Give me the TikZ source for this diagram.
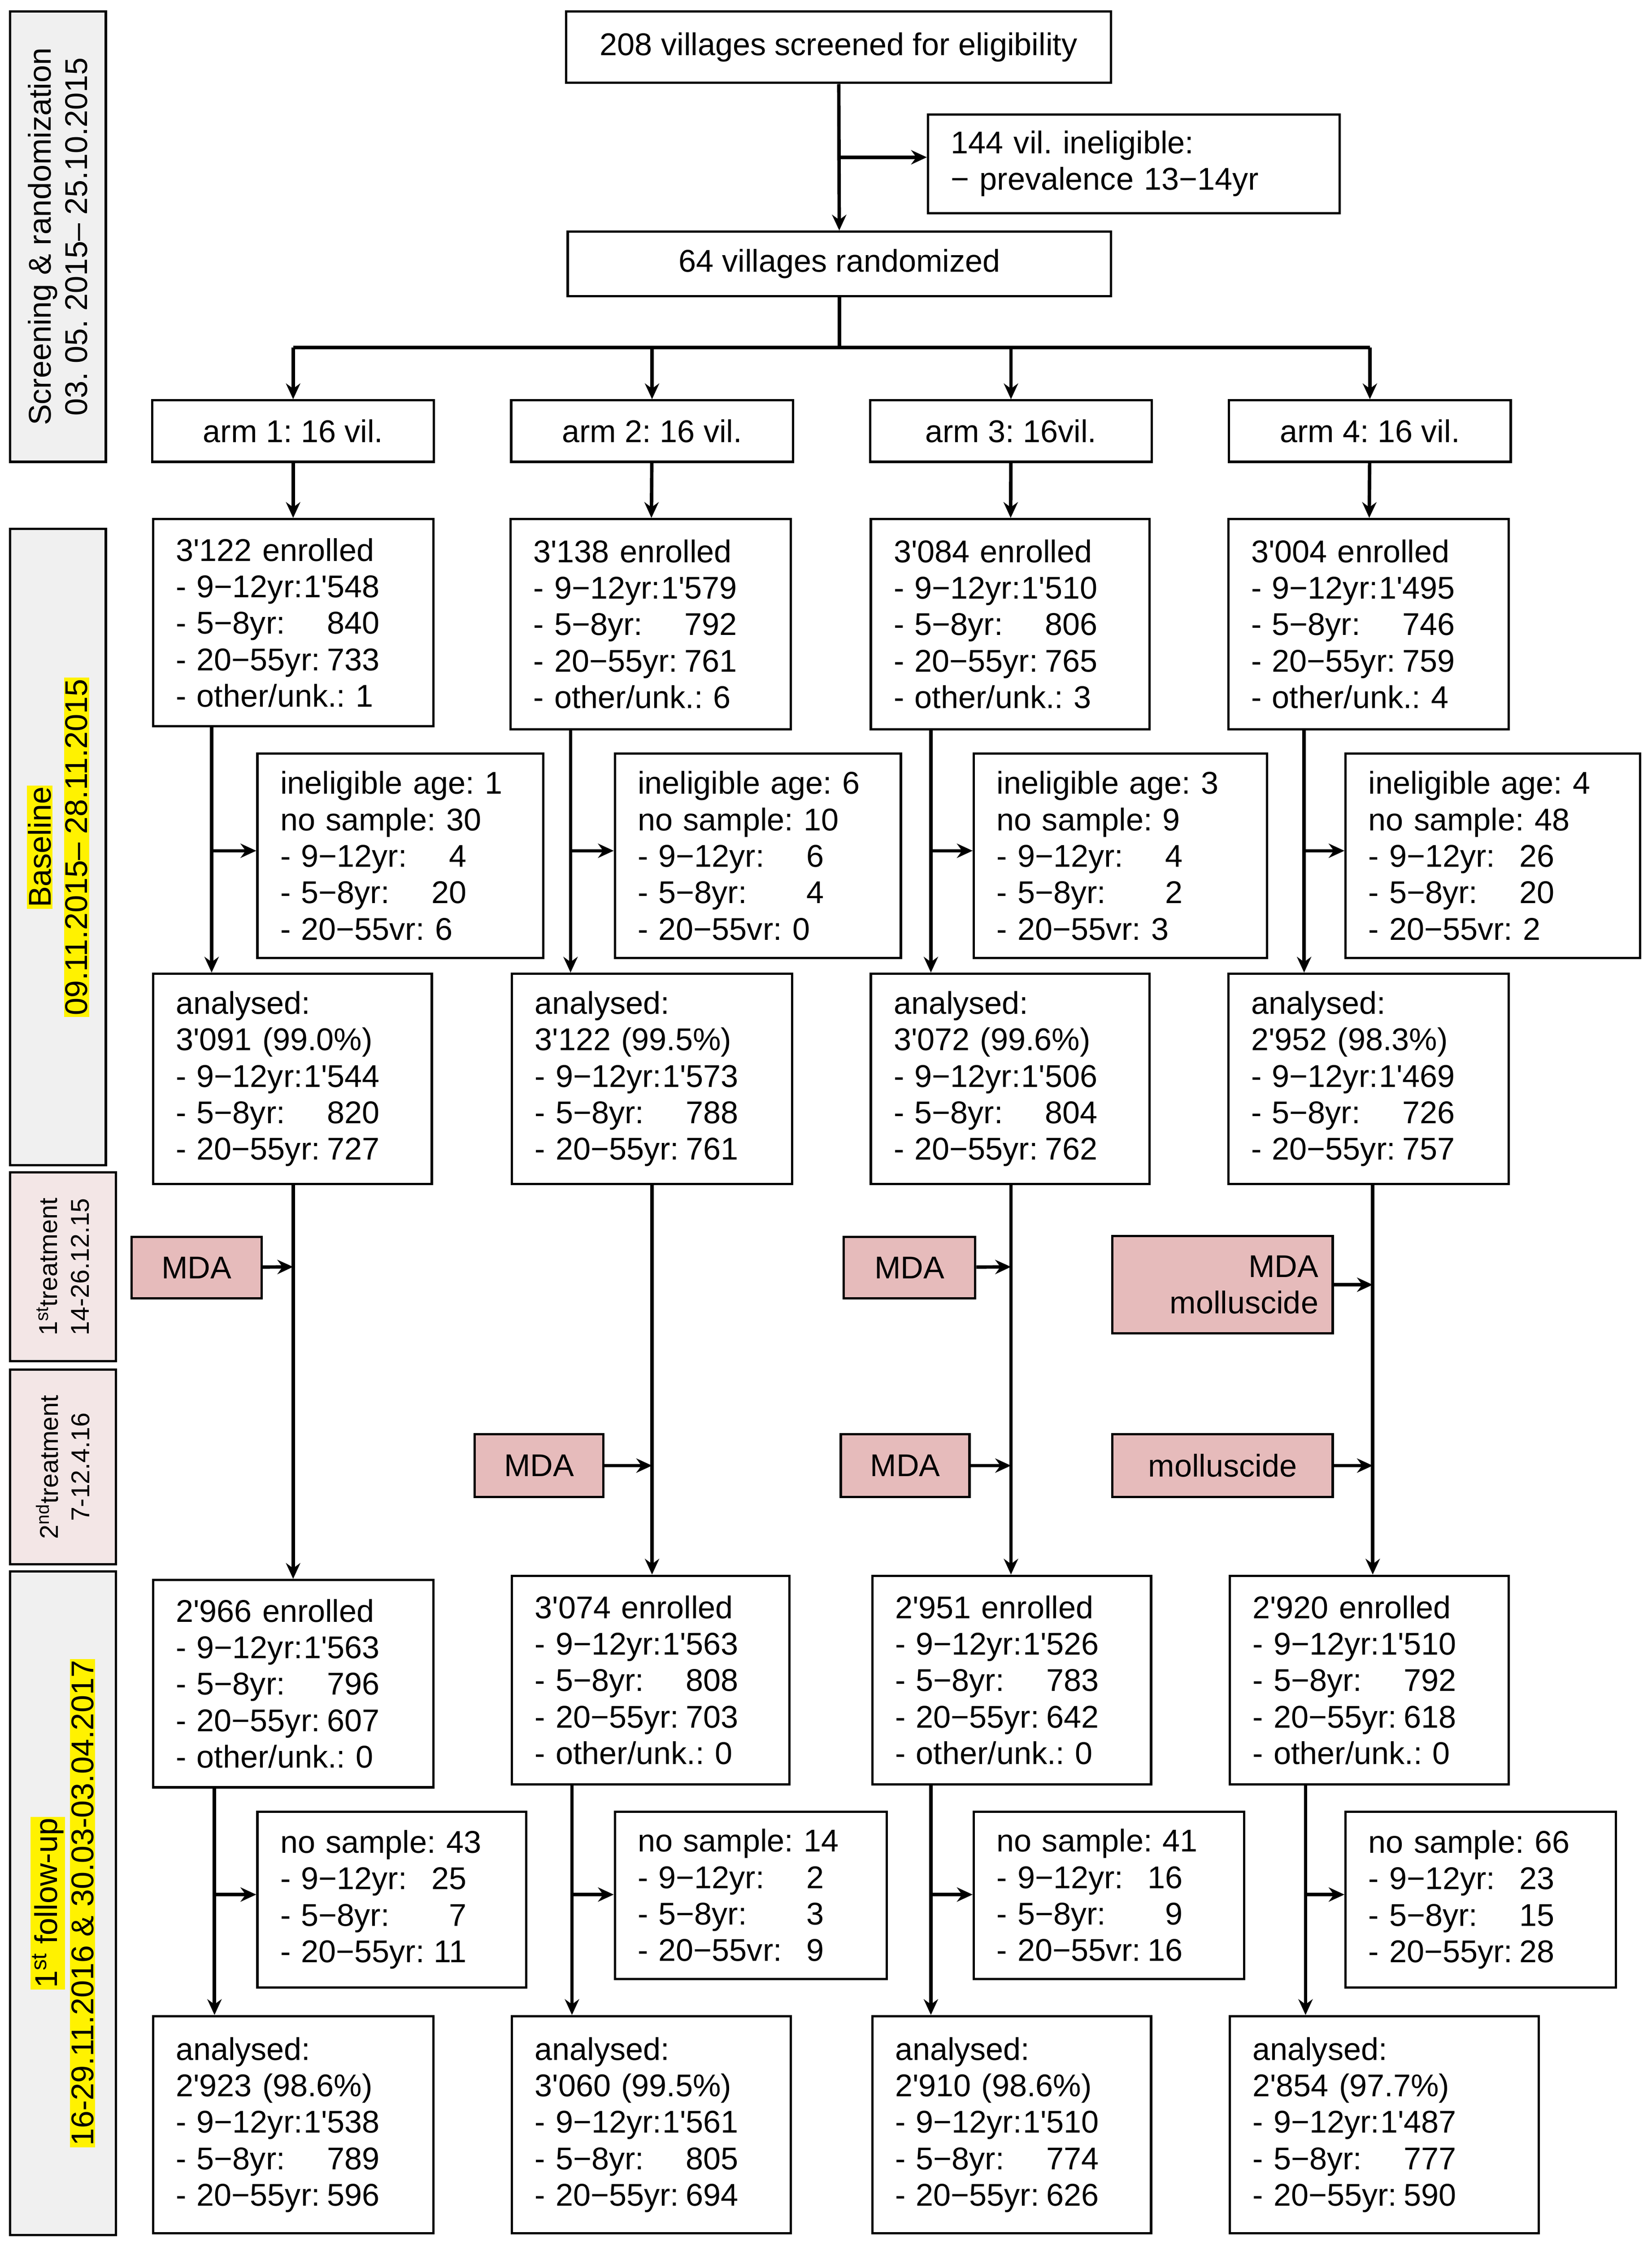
\documentclass[tikz,border=0pt]{standalone}
\usepackage{fontspec}
\setmainfont{Liberation Sans}[Ligatures=TeXOff]
\usetikzlibrary{arrows.meta}
\frenchspacing
\definecolor{pk}{HTML}{E6BBBB}
\definecolor{pl}{HTML}{F3E6E6}
\newlength\rw \newlength\rv
\newcommand\R[2]{\makebox[\rw][s]{#1\hfill#2}}
\newcommand\V[2]{\makebox[\rv][s]{#1\hfill#2}}
\newcommand\hl[1]{{\setlength\fboxsep{1pt}\colorbox{yellow}{#1}}}
\newcommand\bx[6]{\node[box,minimum width={#4-#2},minimum height={#5-#3},text width={#4-#2-32}] (#1) at ({(#2+#4)/2},{(#3+#5)/2}) {#6};}
\newcommand\pk[6]{\node[pbox,minimum width={#4-#2},minimum height={#5-#3},text width={#4-#2-20}] (#1) at ({(#2+#4)/2},{(#3+#5)/2}) {#6};}
\newcommand\sd[6]{\node[side,fill=#6,minimum width={#4-#2},minimum height={#5-#3}] (#1) at ({(#2+#4)/2},{(#3+#5)/2}) {};}
\newcommand\E[5]{#1 enrolled\\\R{- 9−12yr:}{#2}\\\R{- 5−8yr:}{#3}\\\R{- 20−55yr:}{#4}\\- other/unk.: #5}
\newcommand\A[4]{analysed:\\#1\\\R{- 9−12yr:}{#2}\\\R{- 5−8yr:}{#3}\\\R{- 20−55yr:}{#4}}
\newcommand\I[4]{ineligible age: #1\\no sample: #2\\\V{- 9−12yr:}{#3}\\\V{- 5−8yr:}{#4}}
\newcommand\N[5]{no sample: #1\\\V{- 9−12yr:}{#2}\\\V{- 5−8yr:}{#3}\\\V{- 20−55#5:}{#4}}
\begin{document}
\settowidth\rw{\fontsize{22}{25.5}\selectfont - 20−55yr: 000}
\settowidth\rv{\fontsize{22}{25.5}\selectfont - 20−55yr: 00}
\begin{tikzpicture}[x=1pt,y=-1pt,
 every node/.style={font=\fontsize{22}{25.5}\selectfont},
 box/.style={draw,line width=1.6pt,inner sep=0pt,align=left},
 pbox/.style={draw,line width=1.6pt,inner sep=0pt,fill=pk,align=center},
 side/.style={draw,line width=1.6pt,inner sep=0pt},
 ln/.style={line width=2.4pt},
 arr/.style={line width=2.4pt,-{Stealth[length=11pt,width=10pt]}}]
\useasboundingbox (0,0) rectangle (1155,1568);
% side bars
\sd{s1}{7}{8}{74}{323}{gray!12}
\node[rotate=90,align=center] at (s1) {Screening \& randomization\\03. 05. 2015– 25.10.2015};
\sd{s2}{7}{370}{74}{815}{gray!12}
\node[rotate=90,align=center] at (s2) {\hl{Baseline}\\\hl{09.11.2015– 28.11.2015}};
\sd{s3}{7}{820}{81}{952}{pl}
\node[rotate=90,align=center,font=\fontsize{18}{22}\selectfont] at (s3) {1\textsuperscript{st}treatment\\14-26.12.15};
\sd{s4}{7}{958}{81}{1094}{pl}
\node[rotate=90,align=center,font=\fontsize{18}{22}\selectfont] at (s4) {2\textsuperscript{nd}treatment\\7-12.4.16};
\sd{s5}{7}{1099}{81}{1563}{gray!12}
\node[rotate=90,align=center] at (s5) {\hl{1\textsuperscript{st} follow-up}\\\hl{16-29.11.2016 \& 30.03-03.04.2017}};
% top
\node[box,minimum width=381,minimum height=50,align=center] (scr) at (586.5,33) {208 villages screened for eligibility};
\bx{inel}{649}{80}{937}{149}{144 vil. ineligible:\\ − prevalence 13−14yr}
\node[box,minimum width=380,minimum height=45,align=center] (rnd) at (587,184.5) {64 villages randomized};
\draw[arr] (scr) -- (rnd);
\draw[arr] (587,110) -- (inel.west|-587,110);
\draw[ln] (rnd.south) -- (587,243);
\draw[ln] (205,243) -- (958,243);
\foreach \c/\t [count=\i] in {205/arm 1: 16 vil.,456/arm 2: 16 vil.,707/arm 3: 16vil.,958/arm 4: 16 vil.}{
 \node[box,minimum width=197,minimum height=43,align=center] (arm\i) at (\c,301.5) {\t};
 \draw[arr] (\c,243) -- (arm\i.north);
}
% enrolled
\bx{e1}{107}{363}{303}{508}{\E{3'122}{1'548}{840}{733}{1}}
\bx{e2}{357}{363}{553}{510}{\E{3'138}{1'579}{792}{761}{6}}
\bx{e3}{609}{363}{804}{510}{\E{3'084}{1'510}{806}{765}{3}}
\bx{e4}{859}{363}{1055}{510}{\E{3'004}{1'495}{746}{759}{4}}
\foreach \i in {1,...,4} \draw[arr] (arm\i) -- (e\i);
% ineligible
\bx{i1}{180}{527}{380}{670}{\I{1}{30}{4}{20}\\- 20−55vr: 6}
\bx{i2}{430}{527}{630}{670}{\I{6}{10}{6}{4}\\- 20−55vr: 0}
\bx{i3}{681}{527}{886}{670}{\I{3}{9}{4}{2}\\- 20−55vr: 3}
\bx{i4}{941}{527}{1147}{670}{\I{4}{48}{26}{20}\\- 20−55vr: 2}
% analysed
\bx{a1}{107}{681}{302}{828}{\A{3'091 (99.0\%)}{1'544}{820}{727}}
\bx{a2}{358}{681}{554}{828}{\A{3'122 (99.5\%)}{1'573}{788}{761}}
\bx{a3}{609}{681}{804}{828}{\A{3'072 (99.6\%)}{1'506}{804}{762}}
\bx{a4}{859}{681}{1055}{828}{\A{2'952 (98.3\%)}{1'469}{726}{757}}
\foreach \i/\x/\n in {1/148/i1,2/399/i2,3/651/i3,4/912/i4}{
 \draw[arr] (e\i.south-|\x,0) -- (a\i.north-|\x,0);
 \draw[arr] (\x,595) -- (\n.west|-\x,595);
}
% follow-up enrolled
\bx{f1}{107}{1105}{303}{1250}{\E{2'966}{1'563}{796}{607}{0}}
\bx{f2}{358}{1102}{552}{1248}{\E{3'074}{1'563}{808}{703}{0}}
\bx{f3}{610}{1102}{805}{1248}{\E{2'951}{1'526}{783}{642}{0}}
\bx{f4}{860}{1102}{1055}{1248}{\E{2'920}{1'510}{792}{618}{0}}
\foreach \i/\x in {1/205,2/456,3/707,4/960} \draw[arr] (a\i.south-|\x,0) -- (f\i.north-|\x,0);
% treatments
\pk{m1}{92}{865}{183}{908}{MDA}
\pk{m3}{590}{865}{682}{908}{MDA}
\node[pbox,minimum width=154,minimum height=68,align=right,text width=134] (m4) at (855,898.5) {MDA\\molluscide};
\pk{n2}{332}{1003}{422}{1047}{MDA}
\pk{n3}{588}{1003}{678}{1047}{MDA}
\pk{n4}{778}{1003}{932}{1047}{molluscide}
\draw[arr] (m1) -- (205,886);
\draw[arr] (m3) -- (707,886);
\draw[arr] (m4) -- (960,898.5);
\draw[arr] (n2) -- (456,1025);
\draw[arr] (n3) -- (707,1025);
\draw[arr] (n4) -- (960,1025);
% no sample
\bx{g1}{180}{1267}{368}{1390}{\N{43}{25}{7}{11}{yr}}
\bx{g2}{430}{1267}{620}{1384}{\N{14}{2}{3}{9}{vr}}
\bx{g3}{681}{1267}{870}{1384}{\N{41}{16}{9}{16}{vr}}
\bx{g4}{941}{1267}{1130}{1390}{\N{66}{23}{15}{28}{yr}}
% analysed 2
\bx{b1}{107}{1410}{303}{1562}{\A{2'923 (98.6\%)}{1'538}{789}{596}}
\bx{b2}{358}{1410}{553}{1562}{\A{3'060 (99.5\%)}{1'561}{805}{694}}
\bx{b3}{610}{1410}{805}{1562}{\A{2'910 (98.6\%)}{1'510}{774}{626}}
\bx{b4}{860}{1410}{1076}{1562}{\A{2'854 (97.7\%)}{1'487}{777}{590}}
\foreach \i/\x/\n in {1/150/g1,2/400/g2,3/651/g3,4/913/g4}{
 \draw[arr] (f\i.south-|\x,0) -- (b\i.north-|\x,0);
 \draw[arr] (\x,1325) -- (\n.west|-\x,1325);
}
\end{tikzpicture}
\end{document}
